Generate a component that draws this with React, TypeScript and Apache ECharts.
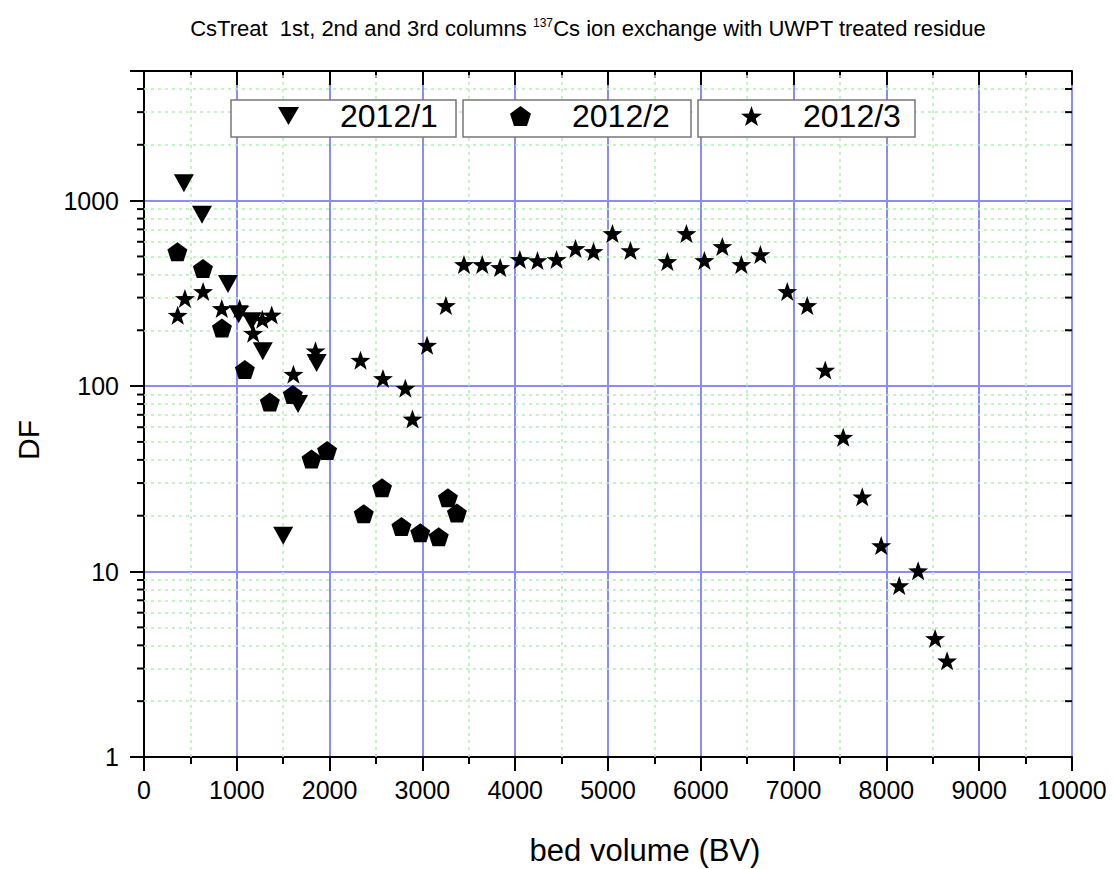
import React, { useEffect, useRef } from "react";
import * as echarts from "echarts";

const FONT = "'Liberation Sans', Arial, sans-serif";

const titleText = "CsTreat  1st, 2nd and 3rd columns ";
const titleSup = "137";
const titleRest = "Cs ion exchange with UWPT treated residue";
const xName = "bed volume (BV)";
const yName = "DF";

const seriesNames = ["2012/1", "2012/2", "2012/3"];

const s1X = [430, 625, 905, 1020, 1160, 1280, 1500, 1660, 1860];
const s1Y = [1240, 840, 355, 244, 224, 154, 15.6, 80, 133];

const s2X = [360, 635, 840, 1087, 1356, 1604, 1805, 1973, 2368, 2565, 2774, 2977, 3176, 3275, 3372];
const s2Y = [530, 431, 206, 123, 82, 90, 40.5, 45, 20.5, 28.3, 17.5, 16.2, 15.4, 25, 20.7];

const s3X = [363, 441, 637, 838, 1030, 1177, 1275, 1376, 1610, 1848, 2333, 2575, 2816, 2893, 3050, 3253, 3448, 3645, 3838, 4050, 4240, 4446, 4650, 4844, 5048, 5242, 5640, 5845, 6039, 6232, 6437, 6642, 6932, 7147, 7341, 7535, 7740, 7944, 8138, 8342, 8525, 8654];
const s3Y = [241, 297, 324, 262, 262, 193, 229, 242, 116, 155, 138, 110, 97.5, 66.5, 166, 272, 453, 453, 436, 482, 475, 482, 552, 532, 665, 538, 470, 665, 476, 566, 453, 512, 324, 272, 122, 53, 25.3, 13.8, 8.4, 10.1, 4.36, 3.3];

const xMin = 0;
const xMax = 10000;
const xInterval = 1000;
const yMin = 1;
const yMax = 5000;
const yMajor = [1, 10, 100, 1000];
const yMinor = [2, 3, 4, 5, 6, 7, 8, 9, 20, 30, 40, 50, 60, 70, 80, 90, 200, 300, 400, 500, 600, 700, 800, 900, 2000, 3000, 4000];
const xMinor = [500, 1500, 2500, 3500, 4500, 5500, 6500, 7500, 8500, 9500];

const TRI = "path://M0,0 L100,0 L50,86 Z";
const PENT = "path://M50,0 L97.55,34.55 L79.39,90.45 L20.61,90.45 L2.45,34.55 Z";
const STAR = "path://M50,0 L61.76,33.82 L97.55,34.55 L69.02,56.18 L79.39,90.45 L50,70 L20.61,90.45 L30.98,56.18 L2.45,34.55 L38.24,33.82 Z";

const zip = (xs: number[], ys: number[]) => xs.map((x, i) => [x, ys[i]]);

export default function App() {
  const ref = useRef<HTMLDivElement>(null);
  useEffect(() => {
    if (!ref.current) return;
    const chart = echarts.init(ref.current, undefined, { renderer: "svg" });
    const blue = "#8c8cf6";
    const green = "#b4f0b4";
    const legendCommon = {
      top: 100,
      padding: 0,
      itemWidth: 21,
      itemHeight: 20,
      selectedMode: false,
      textStyle: { fontSize: 32, color: "#000", fontFamily: FONT, padding: [0, 0, 0, 36] },
    };
    const sym = { color: "#000", opacity: 1 };
    const option: any = {
      animation: false,
      backgroundColor: "#fff",
      textStyle: { fontFamily: FONT },
      grid: { left: 144, right: 41, top: 71, bottom: 112, containLabel: false },
      xAxis: [
        {
          type: "value",
          min: xMin,
          max: xMax,
          interval: xInterval,
          position: "bottom",
          axisLine: { lineStyle: { color: "#000", width: 2 } },
          axisTick: { show: true, inside: false, length: 14, lineStyle: { color: "#000", width: 2 } },
          minorTick: { show: true, splitNumber: 2, length: 7, lineStyle: { color: "#000", width: 2 } },
          axisLabel: { fontSize: 25, color: "#000", margin: 20, fontFamily: FONT, formatter: (v: number) => String(v) },
          splitLine: { show: true, lineStyle: { color: blue, width: 2 } },
        },
        {
          type: "value",
          min: xMin,
          max: xMax,
          interval: xInterval,
          position: "top",
          axisLine: { show: true, lineStyle: { color: "#000", width: 2 } },
          axisTick: { show: true, inside: true, length: 14, lineStyle: { color: "#000", width: 2 } },
          minorTick: { show: true, splitNumber: 2, length: 7, lineStyle: { color: "#000", width: 2 } },
          axisLabel: { show: false },
          splitLine: { show: false },
        },
      ],
      yAxis: [
        {
          type: "log",
          logBase: 10,
          min: yMin,
          max: yMax,
          position: "left",
          axisLine: { show: true, lineStyle: { color: "#000", width: 2 } },
          axisTick: { show: true, inside: false, length: 14, lineStyle: { color: "#000", width: 2 } },
          axisLabel: {
            fontSize: 25,
            color: "#000",
            margin: 25,
            fontFamily: FONT,
            formatter: (v: number) => {
              const r = Math.round(v);
              return yMajor.indexOf(r) >= 0 ? String(r) : "";
            },
          },
          splitLine: { show: true, lineStyle: { color: blue, width: 2 } },
        },
        {
          type: "log",
          logBase: 10,
          min: yMin,
          max: yMax,
          position: "right",
          axisLine: { show: true, lineStyle: { color: "#000", width: 2 } },
          axisTick: { show: true, inside: true, length: 14, lineStyle: { color: "#000", width: 2 } },
          axisLabel: { show: false },
          splitLine: { show: false },
        },
      ],
      legend: [
        { ...legendCommon, left: 278, data: [seriesNames[0]] },
        { ...legendCommon, left: 510, data: [seriesNames[1]] },
        { ...legendCommon, left: 741, data: [seriesNames[2]] },
      ],
      graphic: [
        {
          type: "text",
          z: 10,
          x: 588,
          y: 28,
          style: {
            text: titleText + "{sup|" + titleSup + "}" + titleRest,
            align: "center",
            verticalAlign: "middle",
            fill: "#000",
            font: "22px " + FONT,
            rich: {
              sup: { fontSize: 12, fill: "#000", fontFamily: FONT, verticalAlign: "bottom", padding: [0, 0, 11, 0] },
            },
          },
        },
        {
          type: "text",
          x: 28,
          y: 440,
          rotation: Math.PI / 2,
          z: 10,
          style: { text: yName, align: "center", verticalAlign: "middle", fill: "#000", font: "30px " + FONT },
        },
        {
          type: "text",
          x: 645,
          y: 850,
          z: 10,
          style: { text: xName, align: "center", verticalAlign: "middle", fill: "#000", font: "31px " + FONT },
        },
        { type: "rect", z: 3, shape: { x: 231, y: 100, width: 225, height: 37 }, style: { fill: "#fff", stroke: "#777", lineWidth: 1.5 } },
        { type: "rect", z: 3, shape: { x: 463, y: 100, width: 228, height: 37 }, style: { fill: "#fff", stroke: "#777", lineWidth: 1.5 } },
        { type: "rect", z: 3, shape: { x: 698, y: 100, width: 217, height: 37 }, style: { fill: "#fff", stroke: "#777", lineWidth: 1.5 } },
      ],
      series: [
        {
          type: "custom",
          name: "minor",
          silent: true,
          z: 1,
          clip: false,
          xAxisIndex: 0,
          yAxisIndex: 0,
          data: yMinor.map((v) => [xMin, v]),
          renderItem: (_p: any, api: any) => {
            const v = api.value(1);
            const l = api.coord([xMin, v]);
            const r = api.coord([xMax, v]);
            return {
              type: "group",
              children: [
                { type: "line", shape: { x1: l[0] - 7, y1: l[1], x2: l[0], y2: l[1] }, style: { stroke: "#000", lineWidth: 2 } },
                { type: "line", shape: { x1: r[0] - 7, y1: r[1], x2: r[0], y2: r[1] }, style: { stroke: "#000", lineWidth: 2 } },
              ],
            };
          },
          markLine: {
            silent: true,
            z: 1,
            symbol: ["none", "none"],
            label: { show: false },
            lineStyle: { color: green, width: 1.5, type: [3, 4] },
            data: [...yMinor.map((v) => ({ yAxis: v })), ...xMinor.map((v) => ({ xAxis: v }))],
          },
        },
        {
          type: "scatter",
          name: seriesNames[0],
          symbol: TRI,
          symbolSize: [20, 18],
          itemStyle: sym,
          z: 4,
          data: zip(s1X, s1Y),
        },
        {
          type: "scatter",
          name: seriesNames[1],
          symbol: PENT,
          symbolSize: [20, 19],
          itemStyle: sym,
          z: 4,
          data: zip(s2X, s2Y),
        },
        {
          type: "scatter",
          name: seriesNames[2],
          symbol: STAR,
          symbolSize: [20, 19],
          itemStyle: sym,
          z: 4,
          data: zip(s3X, s3Y),
        },
      ],
    };
    chart.setOption(option);
    return () => chart.dispose();
  }, []);
  return (
    <div
      ref={ref}
      style={{ position: "fixed", left: 0, top: 0, width: 1113, height: 869, background: "#fff" }}
    />
  );
}
